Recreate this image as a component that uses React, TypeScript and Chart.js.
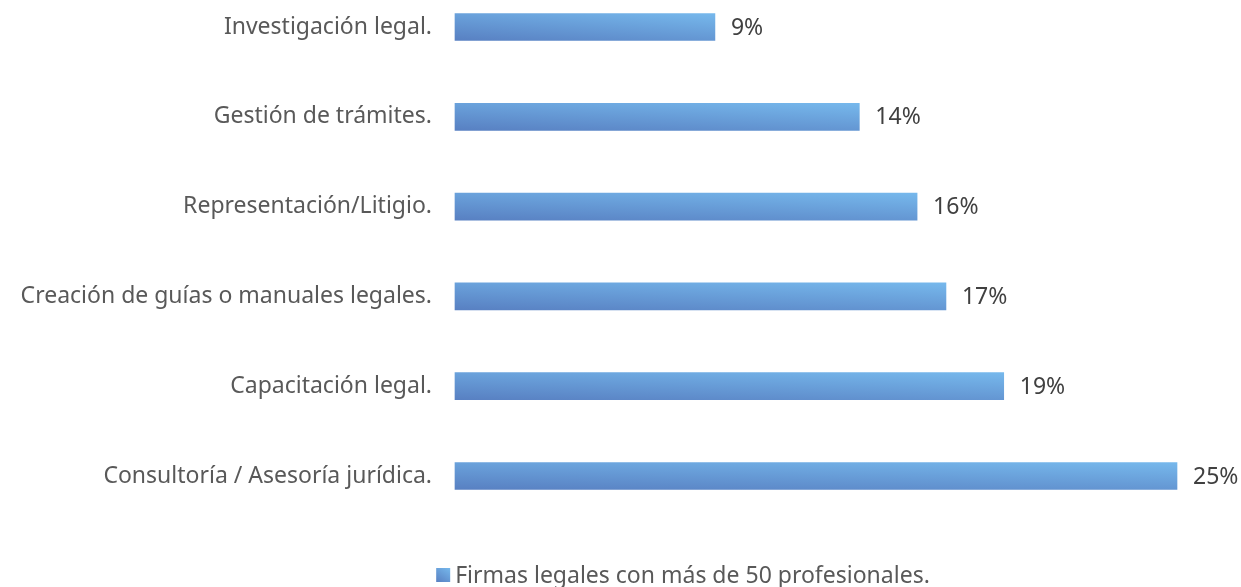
import React, { useEffect, useRef } from "react";
import { Chart, registerables } from "chart.js";

Chart.register(...registerables);

const categories = [
  "Investigación legal.",
  "Gestión de trámites.",
  "Representación/Litigio.",
  "Creación de guías o manuales legales.",
  "Capacitación legal.",
  "Consultoría / Asesoría jurídica.",
];
const values = [9, 14, 16, 17, 19, 25];
const seriesName = "Firmas legales con más de 50 profesionales.";

const FONT = "'Noto Sans', sans-serif";
const FONT_SIZE = 23;
const DARK = "#5880c2";
const LIGHT = "#76b8ec";

function barGradient(ctx: CanvasRenderingContext2D, left: number, top: number, w: number, h: number) {
  const ah = 0.4, av = 0.6;
  const D = 1 / ((ah * ah) / (w * w) + (av * av) / (h * h));
  const dx = (ah * D) / w;
  const dy = (av * D) / h;
  const pts = [left, top + h, left + dx, top + h - dy];
  if (!pts.every((p) => Number.isFinite(p))) return DARK;
  const g = ctx.createLinearGradient(pts[0], pts[1], pts[2], pts[3]);
  g.addColorStop(0, DARK);
  g.addColorStop(1, LIGHT);
  return g;
}

export default function App() {
  const ref = useRef<HTMLCanvasElement>(null);
  useEffect(() => {
    document.body.style.margin = "0";
    document.body.style.overflow = "hidden";
    const canvas = ref.current!;
    const BAR = 27;
    const valueLabels = {
      id: "valueLabels",
      afterDatasetsDraw(chart: any) {
        const ctx = chart.ctx;
        const meta = chart.getDatasetMeta(0);
        ctx.save();
        ctx.font = `${FONT_SIZE}px ${FONT}`;
        ctx.fillStyle = "#404040";
        ctx.textBaseline = "middle";
        ctx.textAlign = "left";
        meta.data.forEach((el: any, i: number) => {
          ctx.fillText(values[i] + "%", el.x + 16, el.y + 1);
        });
        ctx.restore();
      },
    };
    const customLegend = {
      id: "customLegend",
      afterDraw(chart: any) {
        const ctx = chart.ctx;
        ctx.save();
        ctx.font = `${FONT_SIZE}px ${FONT}`;
        const tw = ctx.measureText(seriesName).width;
        const box = 14;
        const gap = 5;
        const total = box + gap + tw;
        const cx = 683;
        const cy = 575;
        const x0 = cx - total / 2;
        ctx.fillStyle = barGradient(ctx, x0, cy - box / 2, box, box);
        ctx.fillRect(x0, cy - box / 2, box, box);
        ctx.fillStyle = "#595959";
        ctx.textBaseline = "middle";
        ctx.textAlign = "left";
        ctx.fillText(seriesName, x0 + box + gap, cy + 1);
        ctx.restore();
      },
    };
    const chart = new Chart(canvas, {
      type: "bar",
      data: {
        labels: categories,
        datasets: [
          {
            label: seriesName,
            data: values,
            barThickness: BAR,
            clip: false as any,
            backgroundColor: (c: any) => {
              const ch = c.chart;
              const xs = ch.scales.x;
              const ys = ch.scales.y;
              if (!xs || !ys || c.dataIndex === undefined) return DARK;
              const x0 = xs.getPixelForValue(0);
              const x1 = xs.getPixelForValue(values[c.dataIndex]);
              const yc = ys.getPixelForValue(c.dataIndex);
              const w = Math.max(1, x1 - x0);
              return barGradient(ch.ctx, x0, yc - BAR / 2, w, BAR);
            },
            borderWidth: 0,
          },
        ],
      },
      options: {
        indexAxis: "y",
        responsive: true,
        maintainAspectRatio: false,
        animation: false,
        layout: { padding: { top: 27, bottom: 111, right: 64, left: 0 } },
        plugins: {
          legend: { display: false },
          tooltip: { enabled: false },
        },
        scales: {
          x: {
            display: false,
            min: 0,
            max: 25,
          },
          y: {
            offset: false,
            grid: { display: false },
            border: { display: false },
            ticks: {
              color: "#595959",
              font: { family: FONT, size: FONT_SIZE },
              padding: 15,
            },
            afterFit(axis: any) {
              axis.width = 455;
              axis.paddingTop = 0;
              axis.paddingBottom = 0;
            },
          },
        },
      },
      plugins: [valueLabels, customLegend],
    });
    return () => chart.destroy();
  }, []);
  return (
    <div style={{ width: 1241, height: 587, position: "relative" }}>
      <canvas ref={ref} />
    </div>
  );
}
